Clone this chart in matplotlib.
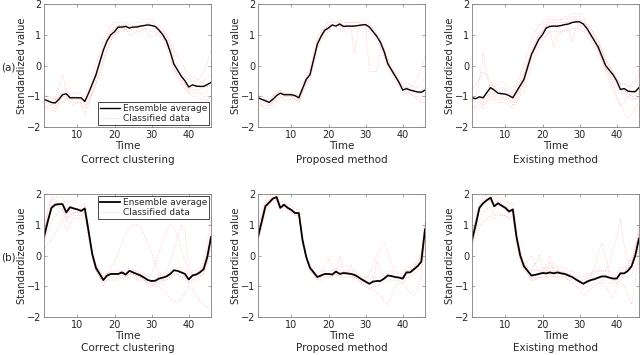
import numpy as np
import matplotlib
matplotlib.use('Agg')
import matplotlib.pyplot as plt

# time axis (1..46)
time = np.arange(1, 47)

panel_titles = ['Correct clustering', 'Proposed method', 'Existing method']
row_labels = ['(a)', '(b)']

# ensemble averages (black lines), row a
avg_a_correct = [-1.1, -1.15, -1.2, -1.22, -1.1, -0.95, -0.92, -1.05, -1.05, -1.05, -1.05, -1.17,
                 -0.9, -0.6, -0.3, 0.1, 0.5, 0.8, 1.0, 1.1, 1.25, 1.25, 1.27, 1.22, 1.25, 1.25,
                 1.28, 1.3, 1.32, 1.3, 1.27, 1.15, 1.0, 0.8, 0.45, 0.05, -0.15, -0.35, -0.5, -0.7,
                 -0.63, -0.67, -0.68, -0.68, -0.62, -0.55]
avg_a_proposed = [-1.05, -1.1, -1.15, -1.2, -1.1, -0.98, -0.9, -0.95, -0.95, -0.95, -0.98, -1.05,
                  -0.75, -0.45, -0.3, 0.2, 0.7, 0.95, 1.15, 1.22, 1.32, 1.28, 1.35, 1.27, 1.28, 1.28,
                  1.28, 1.3, 1.32, 1.33, 1.25, 1.1, 0.95, 0.75, 0.45, 0.05, -0.15, -0.35, -0.55, -0.8,
                  -0.75, -0.8, -0.83, -0.86, -0.87, -0.8]
avg_a_existing = [-1.05, -1.08, -1.02, -1.05, -0.88, -0.72, -0.8, -0.9, -0.92, -0.93, -0.98, -1.05,
                  -0.85, -0.65, -0.45, -0.05, 0.35, 0.6, 0.85, 1.0, 1.22, 1.27, 1.28, 1.28, 1.3, 1.33,
                  1.35, 1.4, 1.42, 1.42, 1.35, 1.2, 1.0, 0.8, 0.6, 0.3, 0.0, -0.15, -0.3, -0.5,
                  -0.78, -0.75, -0.83, -0.85, -0.85, -0.72]

# ensemble averages, row b
avg_b_correct = [0.6, 1.1, 1.55, 1.65, 1.67, 1.67, 1.4, 1.57, 1.53, 1.5, 1.45, 1.53,
                 0.8, 0.05, -0.4, -0.6, -0.8, -0.65, -0.6, -0.6, -0.6, -0.55, -0.62, -0.5, -0.55, -0.6,
                 -0.65, -0.72, -0.8, -0.83, -0.82, -0.75, -0.72, -0.68, -0.6, -0.48, -0.5, -0.55, -0.6,
                 -0.78, -0.65, -0.62, -0.55, -0.45, -0.05, 0.6]
avg_b_proposed = [0.6, 1.1, 1.6, 1.72, 1.85, 1.9, 1.55, 1.65, 1.55, 1.48, 1.38, 1.38,
                  0.5, -0.05, -0.4, -0.55, -0.7, -0.65, -0.6, -0.6, -0.62, -0.52, -0.6, -0.57, -0.58,
                  -0.6, -0.63, -0.7, -0.78, -0.85, -0.92, -0.85, -0.83, -0.83, -0.75, -0.65, -0.67,
                  -0.7, -0.72, -0.75, -0.55, -0.55, -0.45, -0.35, -0.2, 0.85]
avg_b_existing = [0.5, 1.0, 1.55, 1.7, 1.8, 1.88, 1.6, 1.7, 1.62, 1.55, 1.43, 1.5,
                  0.6, 0.0, -0.35, -0.5, -0.65, -0.63, -0.6, -0.57, -0.58, -0.55, -0.58, -0.55, -0.58,
                  -0.6, -0.65, -0.7, -0.78, -0.85, -0.92, -0.85, -0.8, -0.77, -0.72, -0.68, -0.68,
                  -0.72, -0.75, -0.75, -0.58, -0.58, -0.5, -0.35, 0.0, 0.55]

# classified data (red dotted lines), read approximately
data_a_correct = [
    [-1.0, -1.0, -1.1, -1.1, -1.0, -0.8, -0.8, -0.9, -0.9, -0.9, -0.9, -1.0, -0.7, -0.4, 0.0, 0.4, 0.8, 1.1, 1.3, 1.4, 1.4, 1.4, 1.4, 1.3, 1.4, 1.4, 1.4, 1.5, 1.5, 1.5, 1.4, 1.3, 1.2, 1.0, 0.7, 0.3, 0.0, -0.2, -0.4, -0.5, -0.5, -0.5, -0.4, -0.2, 0.1, 0.5],
    [-1.3, -1.4, -1.4, -1.5, -1.3, -1.2, -1.1, -1.2, -1.3, -1.2, -1.3, -1.4, -1.2, -0.9, -0.6, -0.2, 0.2, 0.5, 0.8, 1.0, 1.1, 1.2, 1.2, 1.1, 1.2, 1.1, 1.2, 1.2, 1.2, 1.1, 1.1, 1.0, 0.8, 0.6, 0.2, -0.2, -0.4, -0.6, -0.8, -0.9, -0.8, -0.9, -0.9, -1.0, -1.0, -1.1],
    [-1.2, -1.2, -1.3, -1.1, -0.7, -0.3, -0.8, -1.1, -1.0, -1.1, -1.0, -1.2, -1.0, -0.7, -0.4, 0.0, 0.4, 0.7, 0.9, 1.0, 1.2, 1.3, 1.3, 1.3, 1.2, 1.3, 1.3, 1.3, 1.4, 1.4, 1.3, 1.2, 1.1, 0.9, 0.5, 0.1, -0.2, -0.4, -0.6, -0.8, -0.7, -0.8, -0.8, -0.7, -0.7, -0.6],
    [-1.1, -1.1, -1.2, -1.3, -1.2, -1.0, -1.0, -1.1, -1.1, -1.1, -1.1, -1.3, -1.1, -0.9, -0.6, -0.3, 0.1, 0.5, 0.8, 1.0, 1.1, 1.1, 1.2, 1.0, 1.0, 1.1, 1.1, 1.2, 1.0, 0.9, 1.0, 1.1, 1.1, 1.0, 0.8, 0.5, 0.3, 0.1, -0.1, -0.3, -0.4, -0.4, -0.5, -0.6, -0.7, -0.7],
    [-0.9, -1.0, -1.0, -1.1, -1.0, -0.9, -0.9, -1.0, -1.0, -1.0, -1.2, -1.6, -1.3, -0.8, -0.4, 0.1, 0.6, 0.9, 1.1, 1.2, 1.3, 1.3, 1.3, 1.2, 1.3, 1.3, 1.3, 1.3, 1.4, 1.3, 1.3, 1.2, 1.0, 0.7, 0.4, 0.0, -0.3, -0.5, -0.7, -0.9, -1.0, -1.0, -1.1, -1.2, -1.1, -1.0],
    [-1.4, -1.3, -1.3, -1.4, -1.2, -1.0, -1.1, -1.0, -1.2, -1.2, -1.1, -1.1, -0.9, -0.6, -0.2, 0.2, 0.6, 0.9, 1.1, 1.2, 1.3, 1.2, 1.3, 1.2, 1.3, 1.2, 1.3, 1.3, 1.3, 1.3, 1.2, 1.1, 0.9, 0.7, 0.4, -0.1, -0.3, -0.5, -0.6, -0.8, -0.6, -0.7, -0.6, -0.5, -0.4, -0.3],
]
data_a_proposed = [
    [-1.0, -1.1, -1.1, -1.1, -1.0, -0.9, -0.8, -0.9, -0.9, -0.9, -0.9, -1.0, -0.6, -0.3, -0.1, 0.4, 0.9, 1.1, 1.3, 1.4, 1.5, 1.4, 1.5, 1.4, 1.4, 1.4, 1.4, 1.4, 1.5, 1.5, 1.4, 1.2, 1.1, 0.9, 0.6, 0.2, 0.0, -0.2, -0.4, -0.6, -0.6, -0.6, -0.7, -0.7, -0.6, -0.4],
    [-1.2, -1.3, -1.3, -1.3, -1.2, -1.1, -1.0, -1.1, -1.1, -1.1, -1.1, -1.2, -0.9, -0.6, -0.5, 0.0, 0.5, 0.8, 1.0, 1.1, 1.2, 1.2, 1.2, 1.1, 1.2, 1.2, 1.2, 1.2, 1.2, 1.2, 1.1, 1.0, 0.8, 0.6, 0.3, -0.1, -0.3, -0.5, -0.7, -0.9, -0.9, -0.9, -1.0, -1.0, -1.0, -1.0],
    [-1.1, -1.2, -1.2, -1.3, -1.2, -1.0, -0.9, -1.0, -1.0, -1.0, -1.0, -1.1, -0.8, -0.5, -0.3, 0.2, 0.7, 1.0, 1.2, 1.3, 1.3, 1.3, 1.4, 1.3, 1.3, 1.3, 0.4, 1.2, 1.3, 1.3, -0.2, -0.2, -0.2, 0.6, 0.4, 0.0, -0.2, -0.4, -0.6, -0.8, -0.8, -0.8, -0.9, -0.9, -0.9, -0.8],
    [-0.9, -1.0, -1.1, -1.2, -1.1, -1.0, -0.9, -0.9, -0.9, -0.9, -1.0, -1.1, -0.8, -0.5, -0.3, 0.2, 0.7, 0.9, 1.1, 1.2, 1.3, 1.3, 1.3, 1.3, 1.3, 1.3, 1.3, 1.3, 1.3, 1.3, 1.3, 1.1, 1.0, 0.8, 0.5, 0.1, -0.1, -0.3, -0.5, -0.7, -0.7, -0.7, -0.6, -0.4, -0.1, 0.3],
    [-1.2, -1.3, -1.4, -1.4, -1.3, -1.2, -1.1, -1.0, -1.0, -1.0, -1.1, -1.2, -0.9, -0.6, -0.4, 0.1, 0.6, 0.9, 1.1, 1.2, 1.3, 1.3, 1.3, 1.2, 1.3, 1.3, 1.3, 1.3, 1.3, 1.3, 1.2, 1.1, 0.9, 0.7, 0.5, 0.1, -0.1, -0.3, -0.6, -0.8, -0.8, -0.9, -1.0, -1.1, -1.2, -1.2],
    [-1.0, -1.0, -1.1, -1.2, -1.0, -0.9, -0.8, -0.9, -0.9, -1.0, -1.0, -1.0, -0.7, -0.4, -0.2, 0.3, 0.8, 1.0, 1.2, 1.3, 1.4, 1.4, 1.4, 1.3, 1.4, 1.4, 1.4, 1.4, 1.4, 1.4, 1.3, 1.2, 1.0, 0.8, 0.5, 0.1, -0.1, -0.3, -0.5, -0.7, -0.7, -0.8, -0.8, -0.9, -0.8, -0.7],
]
data_a_existing = [
    [-0.8, -0.6, -0.4, -0.2, -0.3, -0.5, -0.7, -0.6, -0.5, -0.6, -0.8, -0.9, -0.6, -0.3, 0.0, 0.4, 0.8, 1.1, 1.3, 1.4, 1.5, 1.6, 1.5, 1.5, 1.5, 1.6, 1.6, 1.7, 1.7, 1.7, 1.6, 1.4, 1.2, 1.0, 0.8, 0.5, 0.2, 0.0, -0.2, -0.4, -0.6, -0.6, -0.7, -0.6, -0.4, -0.1],
    [-1.3, -1.4, -1.3, -1.4, -1.2, -1.0, -1.1, -1.2, -1.2, -1.2, -1.3, -1.4, -1.2, -1.0, -0.8, -0.4, 0.0, 0.3, 0.6, 0.8, 1.0, 1.1, 1.1, 1.1, 1.1, 1.2, 1.1, 1.2, 1.2, 1.2, 1.1, 1.0, 0.8, 0.6, 0.4, 0.1, -0.2, -0.5, -0.8, -1.1, -1.3, -1.5, -1.7, -1.6, -1.4, -1.2],
    [-1.1, -1.1, -1.0, -1.1, -0.9, -0.6, -0.8, -0.9, -0.9, -0.9, -1.0, -1.1, -0.9, -0.7, -0.5, -0.1, 0.4, 0.7, 1.0, 1.1, 1.3, 1.4, 1.4, 1.3, 1.4, 1.4, 1.4, 1.5, 1.5, 1.5, 1.4, 1.3, 1.1, 0.9, 0.7, 0.4, 0.1, -0.1, -0.3, -0.5, -0.8, -0.8, -0.9, -1.0, -1.0, -0.9],
    [-1.0, -1.2, -1.1, -1.2, -1.0, -0.9, -0.9, -1.0, -1.0, -1.1, -1.1, -1.2, -1.0, -0.8, -0.6, -0.2, 0.2, 0.5, 0.7, 0.9, 1.0, 1.1, 0.6, 1.0, 1.1, 1.1, 1.2, 0.8, 1.2, 1.3, 1.2, 1.1, 0.9, 0.7, 0.5, 0.2, -0.1, -0.3, -0.5, -0.7, -0.9, -0.9, -1.0, -1.1, -1.1, -1.0],
    [-1.2, -1.0, -0.5, 0.4, -0.3, -0.8, -0.9, -0.8, -0.7, -0.8, -0.9, -1.0, -0.7, -0.5, -0.3, 0.1, 0.5, 0.8, 1.0, 1.2, 1.4, 1.5, 1.5, 1.4, 1.5, 1.5, 1.5, 1.6, 1.6, 1.6, 1.5, 1.3, 1.2, 1.0, 0.8, 0.5, 0.2, 0.0, -0.2, -0.4, -0.6, -0.6, -0.6, -0.7, -0.6, -0.3],
    [-0.9, -1.0, -1.0, -1.0, -0.8, -0.6, -0.7, -0.8, -0.9, -0.8, -0.9, -1.0, -0.8, -0.6, -0.3, 0.1, 0.4, 0.7, 0.9, 1.1, 1.3, 1.3, 1.3, 1.3, 1.3, 1.4, 1.4, 1.4, 1.4, 1.4, 1.3, 1.2, 1.0, 0.8, 0.6, 0.3, 0.0, -0.3, -0.6, -1.0, -1.3, -1.2, -1.0, -0.9, -0.8, -0.6],
    [-1.4, -1.3, -1.2, -1.3, -1.1, -0.9, -1.0, -1.1, -1.1, -1.0, -1.1, -1.3, -1.1, -0.8, -0.6, -0.1, 0.3, 0.6, 0.9, 1.1, 1.2, 1.3, 1.3, 1.2, 1.3, 1.3, 1.3, 1.4, 1.4, 1.3, 1.3, 1.2, 1.0, 0.8, 0.5, 0.2, -0.1, -0.2, -0.4, -0.6, -0.8, -0.8, -0.9, -1.0, -1.1, -1.0],
]
data_b_correct = [
    [0.8, 1.4, 1.8, 1.9, 1.9, 1.9, 1.6, 1.8, 1.8, 1.7, 1.6, 1.7, 0.9, 0.1, -0.3, -0.5, -0.7, -0.6, -0.5, -0.5, -0.5, -0.5, -0.5, -0.4, -0.5, -0.5, -0.6, -0.6, -0.7, -0.7, -0.7, -0.6, -0.6, -0.6, -0.5, -0.4, -0.4, -0.4, -0.5, -0.6, -0.5, -0.5, -0.4, -0.2, 0.4, 1.2],
    [0.2, 0.4, 0.5, 0.7, 0.9, 1.2, 0.8, 1.0, 1.2, 1.2, 1.2, 1.3, 0.6, 0.0, -0.5, -0.7, -0.9, -0.8, -0.7, -0.7, -0.7, -0.6, -0.7, -0.6, -0.6, -0.7, -0.7, -0.8, -0.9, -0.9, -0.9, -0.9, -0.8, -0.8, -0.7, -0.6, -0.6, -0.7, -0.7, -0.9, -0.8, -0.7, -0.7, -0.6, -0.3, 0.3],
    [0.6, 1.2, 1.6, 1.7, 1.6, 1.6, 1.3, 1.5, 1.4, 1.4, 1.4, 1.5, 0.7, 0.0, -0.3, -0.5, -0.7, -0.6, -0.4, -0.2, 0.1, 0.4, 0.7, 0.9, 1.0, 1.0, 0.9, 0.7, 0.4, 0.1, -0.3, -0.6, -0.7, -0.7, -0.6, -0.5, -0.5, -0.6, -0.7, -0.8, -0.7, -0.6, -0.5, -0.3, 0.1, 0.7],
    [0.7, 1.2, 1.6, 1.7, 1.7, 1.7, 1.5, 1.6, 1.6, 1.5, 1.5, 1.6, 0.9, 0.1, -0.4, -0.6, -0.8, -0.7, -0.6, -0.6, -0.6, -0.6, -0.7, -0.6, -0.6, -0.7, -0.7, -0.8, -0.9, -1.0, -1.0, -1.0, -1.1, -1.2, -1.4, -1.5, -1.5, -1.4, -1.2, -1.0, -1.1, -1.3, -1.5, -1.6, -1.7, -1.6],
    [0.5, 1.0, 1.5, 1.6, 1.7, 1.7, 1.4, 1.6, 1.5, 1.5, 1.4, 1.5, 0.8, 0.1, -0.4, -0.6, -0.8, -0.7, -0.6, -0.6, -0.6, -0.5, -0.6, -0.5, -0.6, -0.6, -0.7, -0.7, -0.8, -0.8, -0.8, -0.7, -0.6, -0.5, -0.2, 0.2, 0.6, 1.0, 0.8, -0.4, -0.6, -0.6, -0.5, -0.4, -0.1, 0.5],
    [0.9, 1.5, 1.9, 1.8, 1.6, 1.5, 1.1, 1.4, 1.3, 1.3, 1.3, 1.4, 0.7, 0.0, -0.5, -0.7, -1.0, -0.8, -0.8, -0.8, -0.8, -0.7, -0.8, -0.7, -0.7, -0.8, -0.8, -0.8, -1.0, -1.0, -0.9, -0.8, -0.8, -0.8, -0.7, -0.6, -0.6, -0.7, -0.8, -0.9, -0.8, -0.8, -0.7, -0.6, -0.2, 0.4],
    [0.4, 0.8, 1.1, 1.3, 1.4, 1.5, 1.2, 1.3, 1.4, 1.4, 1.3, 1.4, 0.6, -0.1, -0.5, -0.6, -0.8, -0.7, -0.6, -0.6, -0.6, -0.5, -0.6, -0.5, -0.5, -0.5, -0.6, -0.6, -0.7, -0.6, -0.3, 0.1, 0.5, 0.8, 1.0, 0.9, 0.6, 0.2, -0.2, -0.6, -0.6, -0.6, -0.5, -0.4, 0.0, 0.6],
]
data_b_proposed = [
    [0.8, 1.4, 1.8, 1.9, 2.0, 2.0, 1.7, 1.8, 1.7, 1.6, 1.5, 1.5, 0.6, 0.0, -0.3, -0.5, -0.6, -0.5, -0.5, -0.5, -0.5, -0.4, -0.5, -0.5, -0.5, -0.5, -0.5, -0.6, -0.7, -0.7, -0.8, -0.7, -0.7, -0.7, -0.6, -0.5, -0.5, -0.6, -0.6, -0.6, -0.4, -0.4, -0.3, -0.2, 0.1, 1.1],
    [0.4, 0.9, 1.4, 1.6, 1.7, 1.8, 1.4, 1.5, 1.4, 1.4, 1.3, 1.3, 0.4, -0.1, -0.5, -0.6, -0.8, -0.8, -0.7, -0.7, -0.7, -0.6, -0.7, -0.7, -0.7, -0.7, -0.7, -0.8, -0.9, -1.0, -1.1, -1.0, -1.0, -0.9, -0.9, -0.8, -0.8, -0.8, -0.8, -0.9, -0.7, -0.7, -0.6, -0.5, -0.4, 0.6],
    [0.6, 1.1, 1.6, 1.7, 1.8, 1.9, 1.5, 1.6, 1.6, 1.5, 1.4, 1.4, 0.5, -0.1, -0.4, -0.5, -0.7, -0.6, -0.3, -0.1, -0.4, -0.6, 0.0, -0.5, -0.6, -0.3, -0.6, -0.7, -0.8, -0.9, -0.9, -0.8, -0.2, -0.5, -0.7, -0.6, -0.7, -0.7, -0.7, -0.8, -0.6, -0.5, -0.4, -0.3, -0.2, 0.8],
    [0.7, 1.2, 1.7, 1.8, 1.9, 1.9, 1.6, 1.7, 1.6, 1.5, 1.4, 1.4, 0.6, 0.0, -0.4, -0.6, -0.7, -0.6, -0.6, -0.6, -0.6, -0.5, -0.6, -0.6, -0.6, -0.6, -0.7, -0.7, -0.8, -0.8, -0.6, -0.3, 0.0, 0.2, 0.4, 0.1, -0.3, -0.5, -0.6, -0.7, -0.5, -0.5, -0.4, -0.3, -0.1, 0.9],
    [0.5, 1.0, 1.5, 1.7, 1.8, 1.8, 1.5, 1.6, 1.5, 1.4, 1.3, 1.3, 0.4, -0.1, -0.5, -0.6, -0.8, -0.7, -0.6, -0.7, -0.7, -0.6, -0.7, -0.6, -0.6, -0.7, -0.7, -0.8, -0.9, -1.0, -1.0, -1.1, -1.2, -1.3, -1.5, -1.6, -1.3, -1.0, -0.9, -0.9, -1.0, -1.2, -1.3, -1.1, -0.6, 0.4],
    [0.9, 1.3, 1.7, 1.8, 1.9, 1.9, 1.6, 1.7, 1.6, 1.5, 1.4, 1.4, 0.5, 0.0, -0.4, -0.5, -0.7, -0.7, -0.6, -0.6, -0.6, -0.5, -0.6, -0.6, -0.6, -0.6, -0.6, -0.7, -0.8, -0.8, -0.9, -0.8, -0.8, -0.8, -0.7, -0.6, -0.7, -0.7, -0.7, -0.7, -0.5, -0.5, -0.4, -0.2, 0.0, 1.0],
]
data_b_existing = [
    [0.6, 1.2, 1.7, 1.9, 2.0, 2.0, 1.8, 1.9, 1.8, 1.8, 1.7, 1.7, 0.9, 0.2, -0.2, -0.4, -0.5, -0.5, -0.5, -0.4, -0.4, -0.4, -0.4, -0.4, -0.4, -0.4, -0.5, -0.5, -0.6, -0.7, -0.7, -0.6, -0.6, -0.5, -0.5, -0.5, -0.5, -0.5, -0.6, -0.6, -0.4, -0.4, -0.3, -0.1, 0.3, 1.0],
    [0.3, 0.8, 1.3, 1.4, 1.5, 1.6, 1.3, 1.4, 1.3, 1.3, 1.2, 1.2, 0.4, -0.2, -0.5, -0.6, -0.8, -0.8, -0.7, -0.7, -0.7, -0.7, -0.7, -0.7, -0.7, -0.7, -0.8, -0.8, -0.9, -1.0, -1.1, -1.0, -1.0, -0.9, -0.9, -0.8, -0.8, -0.9, -0.9, -0.9, -0.8, -0.7, -0.7, -0.6, -0.3, 0.2],
    [0.5, 1.0, 1.5, 1.7, 1.8, 1.9, 1.6, 1.7, 1.6, 1.5, 1.4, 1.5, 0.6, 0.0, -0.3, -0.4, -0.5, -0.3, 0.0, -0.4, -0.6, -0.2, -0.5, -0.6, -0.5, -0.6, -0.6, -0.7, -0.7, -0.8, -0.9, -0.8, -0.7, -0.4, 0.1, 0.4, 0.0, -0.6, -0.7, -0.7, -0.5, -0.5, -0.4, -0.3, 0.1, 0.6],
    [0.6, 1.1, 1.6, 1.7, 1.8, 1.8, 1.5, 1.6, 1.6, 1.5, 1.4, 1.5, 0.6, 0.0, -0.4, -0.6, -0.8, -0.8, -0.7, -0.7, -0.7, -0.6, -0.7, -0.7, -0.7, -0.7, -0.8, -0.9, -1.0, -1.1, -1.3, -1.2, -1.1, -1.0, -0.9, -0.9, -1.0, -1.2, -1.4, -1.0, -0.9, -1.0, -1.3, -1.6, -0.9, 0.2],
    [0.4, 0.9, 1.5, 1.7, 1.7, 1.8, 1.6, 1.7, 1.6, 1.5, 1.4, 1.4, 0.5, -0.1, -0.4, -0.5, -0.7, -0.6, -0.6, -0.5, -0.5, -0.5, -0.5, -0.5, -0.5, -0.5, -0.6, -0.6, -0.7, -0.8, -0.8, -0.7, -0.6, -0.6, -0.5, -0.5, -0.5, -0.3, 0.2, 0.6, 1.2, 0.3, -0.2, -0.2, 0.1, 0.7],
    [0.7, 1.1, 1.6, 1.8, 1.9, 1.9, 1.6, 1.8, 1.7, 1.6, 1.5, 1.5, 0.6, 0.0, -0.4, -0.5, -0.7, -0.7, -0.6, -0.6, -0.6, -0.6, -0.6, -0.6, -0.6, -0.6, -0.7, -0.7, -0.8, -0.9, -0.9, -0.9, -0.8, -0.8, -0.8, -0.7, -0.7, -0.7, -0.8, -0.8, -0.6, -0.6, -0.5, -0.4, 0.0, 0.7],
    [0.2, 0.6, 0.9, 1.1, 1.2, 1.3, 1.2, 1.3, 1.3, 1.3, 1.2, 1.3, 0.5, -0.1, -0.3, -0.2, 0.0, -0.3, -0.5, -0.6, -0.3, 0.0, -0.4, -0.5, -0.6, -0.6, -0.7, -0.7, -0.8, -0.9, -0.9, -0.8, -0.8, -0.7, -0.7, -0.6, -0.6, -0.7, -0.8, -0.9, -0.7, -0.6, -0.4, -0.2, 0.2, 0.8],
]

averages = [[avg_a_correct, avg_a_proposed, avg_a_existing],
            [avg_b_correct, avg_b_proposed, avg_b_existing]]
classified = [[data_a_correct, data_a_proposed, data_a_existing],
              [data_b_correct, data_b_proposed, data_b_existing]]

txt = '#262626'
plt.rcParams['font.family'] = 'DejaVu Sans'
plt.rcParams['font.size'] = 7

fig = plt.figure(figsize=(6.4, 3.55), dpi=100)
W, H = 640.0, 355.0
lefts = [44, 258, 472]
tops = [4, 194]
aw, ah = 167, 123

for r in range(2):
    for c in range(3):
        ax = fig.add_axes([lefts[c] / W, 1 - (tops[r] + ah) / H, aw / W, ah / H])
        for i, line in enumerate(classified[r][c]):
            ax.plot(time, line, ':', color='#ff4040', lw=0.6, alpha=0.35,
                    label='Classified data' if i == 0 else None)
        lw = 1.0 if r == 0 else 1.3
        ax.plot(time, averages[r][c], '-', color='black', lw=lw, label='Ensemble average')
        ax.set_xlim(1, 46)
        ax.set_ylim(-2, 2)
        ax.set_xticks([10, 20, 30, 40])
        ax.set_yticks([-2, -1, 0, 1, 2])
        ax.tick_params(direction='in', length=2.5, width=0.5, top=True, right=True,
                       colors='#7f7f7f', labelcolor=txt, labelsize=7, pad=2)
        for s in ax.spines.values():
            s.set_color('#7f7f7f')
            s.set_linewidth(0.6)
        ax.set_xlabel('Time', color=txt, fontsize=7.5, labelpad=1)
        ax.set_ylabel('Standardized value', color=txt, fontsize=7.2, labelpad=0)
        ax.text(0.5, -0.27 if r == 0 else -0.25, panel_titles[c], transform=ax.transAxes,
                ha='center', va='center', color=txt, fontsize=7.5)
        if c == 0:
            h, l = ax.get_legend_handles_labels()
            leg = ax.legend(h[::-1], l[::-1], loc='lower right' if r == 0 else 'upper right',
                            fontsize=6.5, handlelength=2.2, handletextpad=0.3, borderpad=0.25,
                            labelspacing=0.1, borderaxespad=0.2, fancybox=False, framealpha=1)
            leg.get_frame().set_edgecolor('#262626')
            leg.get_frame().set_linewidth(0.6)
            for t in leg.get_texts():
                t.set_color(txt)

fig.text(8 / W, 1 - 68 / H, row_labels[0], ha='center', va='center', color=txt, fontsize=7.5)
fig.text(8 / W, 1 - 258 / H, row_labels[1], ha='center', va='center', color=txt, fontsize=7.5)

fig.savefig('out.png', dpi=100)
